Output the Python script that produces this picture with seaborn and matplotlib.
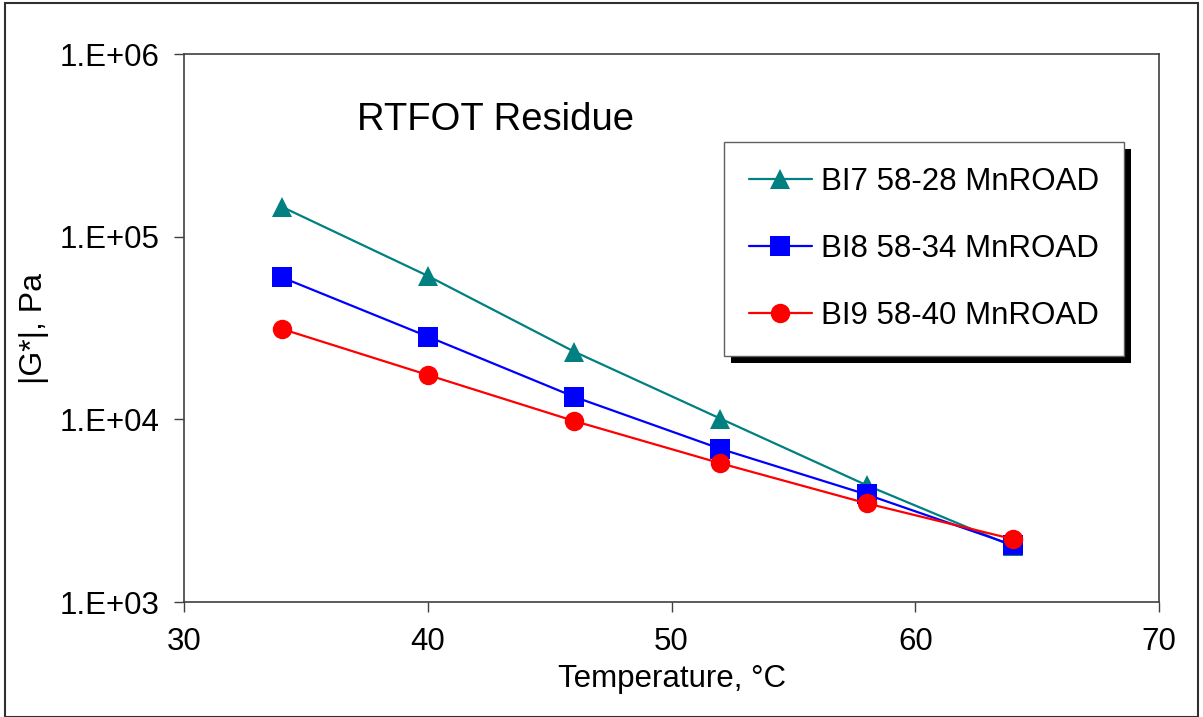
import matplotlib
matplotlib.use("Agg")
import matplotlib.pyplot as plt
import seaborn as sns
import pandas as pd
from matplotlib.patches import Rectangle

temperature = [34, 40, 46, 52, 58, 64]
bi7 = [1.46e5, 6.1e4, 2.35e4, 1.01e4, 4.36e3, 2.02e3]
bi8 = [6.0e4, 2.84e4, 1.33e4, 6.9e3, 3.88e3, 2.05e3]
bi9 = [3.13e4, 1.75e4, 9.8e3, 5.75e3, 3.47e3, 2.21e3]
series_names = ["BI7 58-28 MnROAD", "BI8 58-34 MnROAD", "BI9 58-40 MnROAD"]
y_ticks = [1e3, 1e4, 1e5, 1e6]
y_ticklabels = ["1.E+03", "1.E+04", "1.E+05", "1.E+06"]
x_ticks = [30, 40, 50, 60, 70]

sns.set_style("white")
plt.rcParams['font.family'] = ['Liberation Sans', 'DejaVu Sans']
plt.rcParams['text.color'] = 'black'
plt.rcParams['axes.labelcolor'] = 'black'
plt.rcParams['xtick.color'] = 'black'
plt.rcParams['ytick.color'] = 'black'

rows = []
for name, vals in zip(series_names, [bi7, bi8, bi9]):
    for t, v in zip(temperature, vals):
        rows.append({"Temperature": t, "G": v, "Series": name})
df = pd.DataFrame(rows)

palette = {series_names[0]: "#008080", series_names[1]: "#0000FF", series_names[2]: "#FF0000"}
markers = {series_names[0]: "^", series_names[1]: "s", series_names[2]: "o"}
dashes = {n: "" for n in series_names}

fig = plt.figure(figsize=(12.03, 7.17), dpi=100)
ax = fig.add_axes([184/1203, 1-602/717, (1159-184)/1203, (602-54)/717])

sns.lineplot(data=df, x="Temperature", y="G", hue="Series", style="Series",
             palette=palette, markers=markers, dashes=dashes, ax=ax,
             linewidth=1.6, markersize=14, markeredgewidth=0, legend=True)

ax.set_yscale("log")
ax.set_ylim(1e3, 1e6)
ax.set_xlim(30, 70)
ax.set_xticks(x_ticks)
ax.set_xticklabels([str(x) for x in x_ticks])
ax.set_yticks(y_ticks)
ax.set_yticklabels(y_ticklabels)
ax.minorticks_off()
ax.tick_params(axis="both", which="major", direction="out", length=7, width=1,
               color="#404040", labelcolor="black", labelsize=22.5, pad=11, left=True, bottom=True)
for s in ax.spines.values():
    s.set_color("#404040")
    s.set_linewidth(1.2)
ax.set_xlabel("Temperature, °C", fontsize=22.5, labelpad=5, color="black")
ax.set_ylabel("|G*|, Pa", fontsize=23, color="black")
ax.yaxis.set_label_coords(-0.138, 0.5)
ax.text(37.1, 10**5.64, "RTFOT Residue", fontsize=27.5, ha="left", va="center", color="black")

handles, labels = ax.get_legend_handles_labels()
leg = ax.legend(handles, labels, loc="upper left",
                bbox_to_anchor=(724/1203, 1-142/717), bbox_transform=fig.transFigure,
                fontsize=22.5, frameon=True, fancybox=False, borderaxespad=0,
                handlelength=2.0, handletextpad=0.3, borderpad=0.8, labelspacing=1.18,
                markerscale=1.0, framealpha=1.0, facecolor="white")
leg.get_frame().set_edgecolor("#606060")
leg.get_frame().set_linewidth(1.0)
leg.set_zorder(10)
for t in leg.get_texts():
    t.set_color("black")

fig.canvas.draw()
bb = leg.get_window_extent()
inv = fig.transFigure.inverted()
(x0, y0) = inv.transform((bb.x0 + 7, bb.y0 - 7))
(x1, y1) = inv.transform((bb.x1 + 7, bb.y1 - 7))
ax.add_patch(Rectangle((x0, y0), x1 - x0, y1 - y0, transform=fig.transFigure,
                       facecolor="black", edgecolor="none", zorder=9, clip_on=False))

fig.patches.append(Rectangle((5/1203, 0), 1193/1203, 1 - 3/717, transform=fig.transFigure,
                             facecolor="none", edgecolor="#303030", linewidth=1.5))

fig.savefig("out.png", dpi=100)
